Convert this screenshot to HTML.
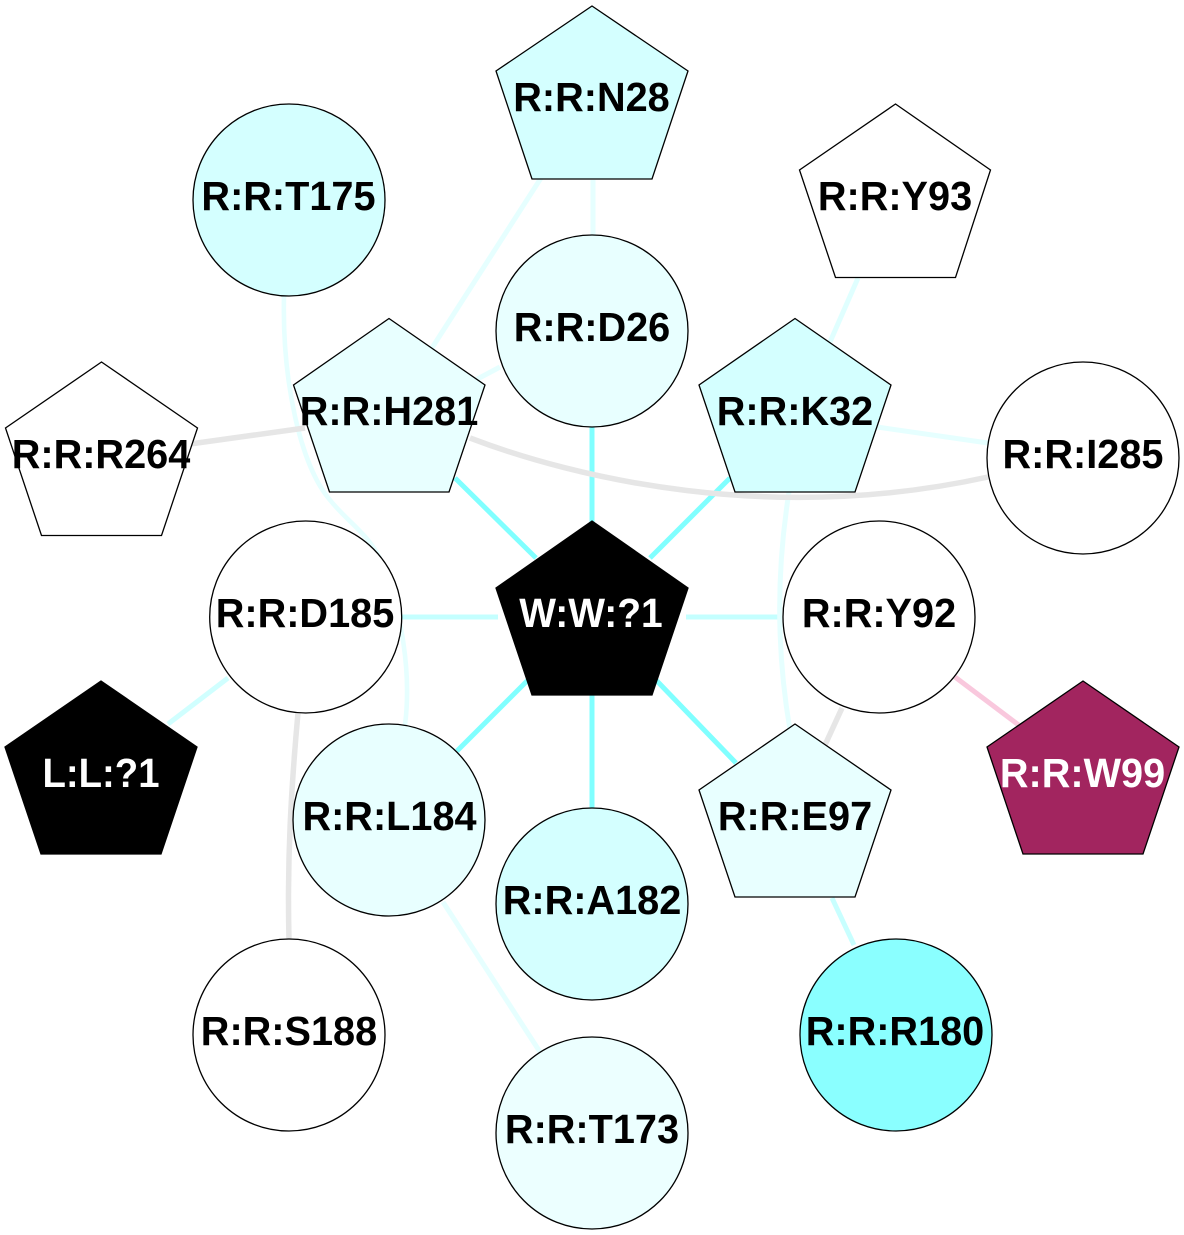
<!DOCTYPE html>
<html><head><meta charset="utf-8"><style>
html,body{margin:0;padding:0;background:#fff}
svg{display:block}
text{font-family:"Liberation Sans",Arial,sans-serif;font-weight:bold;font-size:41px;text-anchor:middle;transform-box:fill-box;transform-origin:center;transform:scaleX(.968)}
.n{stroke:#000;stroke-width:1.3}
.e{fill:none;stroke-linecap:butt}
</style></head><body>
<svg width="1184" height="1235" viewBox="0 0 1184 1235" xmlns="http://www.w3.org/2000/svg">
<g class="e">
<path d="M592 427V525" stroke="#80ffff" stroke-width="5"/>
<path d="M455 478L536 558" stroke="#80ffff" stroke-width="5"/>
<path d="M730 478L650 558" stroke="#80ffff" stroke-width="5"/>
<path d="M402 617H498" stroke="#c4ffff" stroke-width="5"/>
<path d="M686 617H782" stroke="#c4ffff" stroke-width="5"/>
<path d="M528 680L457 751" stroke="#80ffff" stroke-width="5"/>
<path d="M592 695V808" stroke="#80ffff" stroke-width="5"/>
<path d="M656 680L736 763" stroke="#80ffff" stroke-width="5"/>
<path d="M541 178L430 351" stroke="#e6ffff" stroke-width="5"/>
<path d="M593 180V235" stroke="#e6ffff" stroke-width="5"/>
<path d="M500 367L470 383" stroke="#e6ffff" stroke-width="5"/>
<path d="M284 296C282 380 300 465 330 500C350 525 372 535 385 570C400 610 412 670 405 725" stroke="#e6ffff" stroke-width="4.6"/>
<path d="M858 278L830 342" stroke="#e0ffff" stroke-width="5"/>
<path d="M877 427L988 443" stroke="#e6ffff" stroke-width="5"/>
<path d="M789 492C775 580 778 660 790 730" stroke="#e6ffff" stroke-width="5"/>
<path d="M190 444L305 428" stroke="#e6e6e6" stroke-width="5.5"/>
<path d="M470 438C575 478 770 525 988 477" stroke="#e6e6e6" stroke-width="5.5"/>
<path d="M298 713C291 790 287 860 289 940" stroke="#e6e6e6" stroke-width="5.5"/>
<path d="M842 708L825 745" stroke="#e6e6e6" stroke-width="5.5"/>
<path d="M955 677L1020 726" stroke="#f9c8dd" stroke-width="5"/>
<path d="M228 678L168 724" stroke="#d0ffff" stroke-width="5"/>
<path d="M443 902L540 1052" stroke="#e6ffff" stroke-width="5"/>
<path d="M832 898L854 945" stroke="#c8ffff" stroke-width="5"/>
</g>
<circle class="n" cx="289" cy="200" r="96" fill="#d4ffff"/>
<circle class="n" cx="592" cy="331" r="96" fill="#e8ffff"/>
<circle class="n" cx="1083" cy="458" r="96" fill="#fff"/>
<circle class="n" cx="305.7" cy="617" r="96" fill="#fff"/>
<circle class="n" cx="879" cy="617" r="96" fill="#fff"/>
<circle class="n" cx="389" cy="820" r="96" fill="#e8ffff"/>
<circle class="n" cx="592" cy="904" r="96" fill="#d4ffff"/>
<circle class="n" cx="289" cy="1035" r="96" fill="#fff"/>
<circle class="n" cx="896" cy="1035" r="96" fill="#8affff"/>
<circle class="n" cx="592" cy="1133" r="96" fill="#ecffff"/>
<polygon class="n" points="592,6 688,71 652,179 532,179 496,71" fill="#d4ffff"/>
<polygon class="n" points="895.5,104 990.5,170 955.5,277.500 835.500,277.500 799.500,170" fill="#fff"/>
<polygon class="n" points="389,318.500 485,385 449,492 329.500,492 293.500,385" fill="#e8ffff"/>
<polygon class="n" points="795,318.500 891,385 855,492 735,492 699,385" fill="#d4ffff"/>
<polygon class="n" points="101.500,362 197.500,428 161.500,535.500 41.500,535.500 5.500,428" fill="#fff"/>
<polygon class="n" points="592,521 688,588 652,695 532,695 496,588" fill="#000"/>
<polygon class="n" points="101,681 197,747 161,854 41,854 5,747" fill="#000"/>
<polygon class="n" points="795,724 891,790 855,897 735,897 699,790" fill="#e8ffff"/>
<polygon class="n" points="1083,681 1179,747 1143,854 1023,854 987,747" fill="#a2255f"/>
<text x="591.5" y="111">R:R:N28</text>
<text x="288.500" y="210">R:R:T175</text>
<text x="895" y="210">R:R:Y93</text>
<text x="592" y="341">R:R:D26</text>
<text x="389" y="425">R:R:H281</text>
<text x="795" y="425">R:R:K32</text>
<text x="101" y="468">R:R:R264</text>
<text x="1083" y="468">R:R:I285</text>
<text x="305" y="627">R:R:D185</text>
<text x="591" y="627" fill="#fff" style="transform:scaleX(.95)">W:W:?1</text>
<text x="879" y="627">R:R:Y92</text>
<text x="101" y="787" fill="#fff" style="transform:scaleX(.935)">L:L:?1</text>
<text x="1082.500" y="787" fill="#fff">R:R:W99</text>
<text x="389.500" y="830">R:R:L184</text>
<text x="795" y="830">R:R:E97</text>
<text x="592" y="914">R:R:A182</text>
<text x="289" y="1045">R:R:S188</text>
<text x="895" y="1045">R:R:R180</text>
<text x="592" y="1143">R:R:T173</text>
</svg>
</body></html>
